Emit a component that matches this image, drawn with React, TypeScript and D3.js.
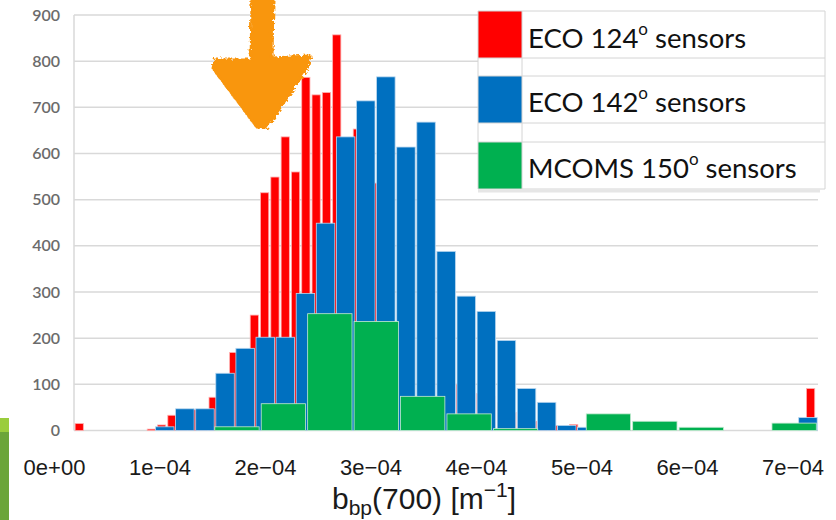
import React from "react";
import * as d3 from "d3";

// ECO 124° counts, narrow bins starting at 0.2e-4
const redStart = 0.2e-4;
const redBin = 1.025e-5;
const redCounts = [
  15, 0, 0, 0, 0, 0, 0, 3, 12, 33,
  40, 45, 45, 72, 100, 169, 170, 250, 515, 549,
  636, 560, 765, 727, 732, 857, 600, 653, 600, 536,
  420, 0, 300, 0, 200, 0, 67, 100, 30, 80,
  74, 60, 39, 30, 20, 15, 11, 8, 13, 0,
  0, 0, 0, 0, 0, 0, 0, 0, 0, 0,
  0, 0, 0, 0, 0, 0, 0, 0, 0, 0,
  0, 91,
];

// ECO 142° counts
const blueStart = 1.0e-4;
const blueBin = 2e-5;
const blueCounts = [
  8, 47, 47, 124, 178, 202, 202, 297, 449, 636,
  714, 766, 614, 668, 388, 291, 258, 195, 91, 61,
  11, 7, 0, 0, 0, 0, 0, 0, 0, 0,
  0, 0, 28,
];

// MCOMS 150° counts, wide bins
const greenStart = 1.59e-4;
const greenBin = 4.62e-5;
const greenCounts = [8, 58, 253, 236, 74, 36, 4, 0, 36, 20, 7, 0, 16];

const yTicks = [0, 100, 200, 300, 400, 500, 600, 700, 800, 900];
const xTicks = [0, 1e-4, 2e-4, 3e-4, 4e-4, 5e-4, 6e-4, 7e-4];

const legendItems = [
  { label: "ECO 124", color: "#FF0000" },
  { label: "ECO 142", color: "#0070C0" },
  { label: "MCOMS 150", color: "#00B050" },
];

// annotation arrow tip (data coords)
const arrowTip = { x: 2.07e-4, y: 655 };

const W = 836;
const H = 520;
const plotLeft = 74;
const plotRight = 818;

const fmt = (v: number) =>
  d3.format(".0e")(v).replace(/e([+\u2212-])(\d)$/, (m, s, d) => `e${s === "-" ? "\u2212" : s}0${d}`);

const App = () => {
  const y = d3.scaleLinear().domain([0, 900]).range([430.5, 15]);
  const xBar = d3.scaleLinear().domain([0, 7e-4]).range([55, 758.5]);
  const xTick = d3.scaleLinear().domain([0, 7e-4]).range([54.5, 793]);

  const series = [
    { start: redStart, bin: redBin, counts: redCounts, fill: "#FF0000", stroke: "#ffb0b0", frac: 0.8 },
    { start: blueStart, bin: blueBin, counts: blueCounts, fill: "#0070C0", stroke: "#b8d6ef", frac: 0.92 },
    { start: greenStart, bin: greenBin, counts: greenCounts, fill: "#00B050", stroke: "#c4ead2", frac: 0.955 },
  ];

  const ax = xBar(arrowTip.x);
  const ay = y(arrowTip.y);
  const arrowPts: [number, number][] = [
    [-11, -132], [10, -132], [9, -70], [47, -72], [44, -60], [3, 0], [-6, -1],
    [-50, -60], [-48, -68], [-12, -68],
  ];
  const arrowPath = d3.line().curve(d3.curveLinearClosed)(arrowPts.map(p => [ax + p[0], ay + p[1]]));

  const lgX = 478, lgX2 = 522, lgR = 825;
  const rowLines = [11, 58, 76, 123, 142, 189];
  const rows = [[11, 58], [76, 123], [142, 189]];

  return (
    <div style={{ position: "absolute", left: 0, top: 0 }}>
      <svg width={W} height={H} style={{ display: "block", background: "#fff" }}>
        <defs>
          <filter id="rough" x="-20%" y="-20%" width="140%" height="140%">
            <feTurbulence type="fractalNoise" baseFrequency="0.35" numOctaves="2" seed="3" />
            <feDisplacementMap in="SourceGraphic" scale="6" />
          </filter>
        </defs>

        {/* gridlines */}
        {yTicks.map(t => (
          <line key={t} x1={plotLeft} x2={plotRight} y1={y(t)} y2={y(t)} stroke="#d9d9d9" strokeWidth={1.5} />
        ))}
        <line x1={plotLeft} x2={plotLeft} y1={y(900)} y2={y(0)} stroke="#d9d9d9" strokeWidth={1.5} />

        {/* y tick labels */}
        {yTicks.map(t => (
          <text key={t} x={60} y={y(t)} dy="0.35em" textAnchor="end" fontFamily="Lato, 'Open Sans', sans-serif"
            fontSize={16} fontWeight={600} fill="#6b6b6b">{t}</text>
        ))}

        {/* histograms: red behind, blue, green on top */}
        {series.map((s, si) => (
          <g key={si}>
            {s.counts.map((c, i) => {
              if (!c) return null;
              const x0 = xBar(s.start + i * s.bin);
              const w = (xBar(s.start + (i + 1) * s.bin) - x0) * s.frac;
              return (
                <rect key={i} x={x0} y={y(c)} width={w} height={y(0) - y(c)}
                  fill={s.fill} stroke={s.stroke} strokeWidth={0.8} />
              );
            })}
          </g>
        ))}

        {/* arrow annotation */}
        <path d={arrowPath || ""} fill="#F9960F" stroke="#F9960F" strokeWidth={3} strokeLinejoin="round" filter="url(#rough)" />

        {/* legend */}
        <rect x={lgX} y={11} width={lgR - lgX} height={178} fill="#fff" />
        {rows.map((r, i) => (
          <rect key={i} x={lgX} y={r[0]} width={lgX2 - lgX} height={r[1] - r[0]} fill={legendItems[i].color} />
        ))}
        {rowLines.map(ly => (
          <line key={ly} x1={lgX} x2={lgR} y1={ly} y2={ly} stroke="#d4d4d4" strokeWidth={1} />
        ))}
        {[lgX, lgX2, lgR].map(lx => (
          <line key={lx} x1={lx} x2={lx} y1={11} y2={189} stroke="#d4d4d4" strokeWidth={1} />
        ))}
        <line x1={lgX} x2={820} y1={191} y2={191} stroke="#e6e6e6" strokeWidth={3} />
        {legendItems.map((d, i) => (
          <text key={i} x={528} y={[48, 112, 178][i]} fontFamily="Lato, 'Open Sans', sans-serif" fontSize={27.5} fill="#111">
            {d.label}
            <tspan fontSize={17} dy={-13}>o</tspan>
            <tspan dy={13}> sensors</tspan>
          </text>
        ))}

        {/* x tick labels */}
        {xTicks.map(t => (
          <text key={t} x={xTick(t)} y={475} textAnchor="middle" fontFamily="'Liberation Sans', Arial, sans-serif"
            fontSize={22} fill="#1a1a1a">{fmt(t)}</text>
        ))}

        {/* x title */}
        <text x={424} y={509} textAnchor="middle" fontFamily="'Liberation Sans', Arial, sans-serif" fontSize={30} fill="#1a1a1a">
          b<tspan fontSize={21} dy={6}>bp</tspan>
          <tspan dy={-6}>(700) [m</tspan>
          <tspan fontSize={21} dy={-12}>{"\u22121"}</tspan>
          <tspan dy={12}>]</tspan>
        </text>

        {/* slide edge artifact */}
        <rect x={0} y={418} width={9} height={14} fill="#9ACD3C" />
        <rect x={0} y={432} width={9} height={88} fill="#6BA539" />
      </svg>
    </div>
  );
};

export default App;
